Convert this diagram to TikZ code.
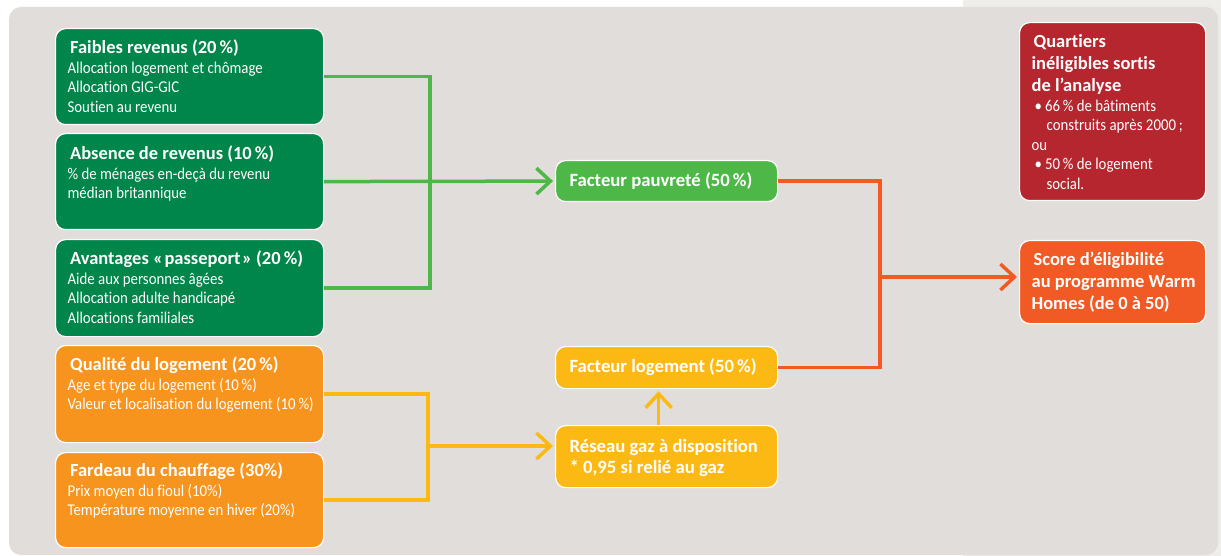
\documentclass[tikz,border=0pt]{standalone}
\usepackage{fontspec}
\setmainfont{Carlito}[Ligatures=NoCommon]
\newfontfamily\bodyfam{Carlito}[Ligatures=NoCommon, FakeStretch=0.9]
\usetikzlibrary{arrows.meta}
\definecolor{panelgray}{HTML}{E1DDDA}
\definecolor{lightgray}{HTML}{EFEDEA}
\definecolor{dgreen}{HTML}{00854A}
\definecolor{lgreen}{HTML}{4DB848}
\definecolor{orangeA}{HTML}{F7941D}
\definecolor{yellowA}{HTML}{FDB913}
\definecolor{redorange}{HTML}{F15A24}
\definecolor{darkred}{HTML}{B5262F}
\newcommand{\titlef}{\fontsize{18.5}{22}\normalfont\bfseries\selectfont}
\newcommand{\bodyf}{\fontsize{16.5}{19.5}\bodyfam\mdseries\selectfont}
\newcommand{\ctitlef}{\fontsize{18.7}{21}\normalfont\bfseries\selectfont}
\newcommand{\rtitlef}{\fontsize{18.5}{22}\normalfont\bfseries\selectfont}
\newcommand{\boxin}[3]{\begin{minipage}[t][#2][t]{#1}#3\end{minipage}}
\newcommand{\firstline}[2]{\hbox to\hsize{\rule{0pt}{#1}#2\hss}}
\newcommand{\nextline}[1]{\hbox to\hsize{#1\hss}}
\tikzset{
  box/.style={draw=white, line width=1.2pt, rounded corners=10pt, inner xsep=12pt,
    inner ysep=0pt, anchor=north west, text=white},
  cbox/.style={box, inner xsep=14pt},
  conn/.style={line width=3.5pt, line join=miter},
  tip/.style={-{Straight Barb[length=14pt,width=26pt]}, shorten >=2pt},
}
\begin{document}
\begin{tikzpicture}[x=1pt,y=-1pt]
\useasboundingbox (0,0) rectangle (1221,556);
\fill[white] (0,0) rectangle (1221,556);
\fill[lightgray] (963,0) rectangle (1221,556);
\fill[panelgray, rounded corners=12pt] (9,7) rectangle (1218,555);

% left boxes
\node[box, fill=dgreen] (fr) at (55,28) {\boxin{244pt}{96pt}{%
  \titlef\firstline{25pt}{\hspace{2.5pt}Faibles revenus (20\,\%)}%
  \bodyf\nextline{Allocation logement et chômage}%
  \nextline{Allocation GIG-GIC}%
  \nextline{Soutien au revenu}}};
\node[box, fill=dgreen] (ab) at (55,133) {\boxin{244pt}{96pt}{%
  \titlef\firstline{26pt}{\hspace{2.5pt}Absence de revenus (10\,\%)}%
  \bodyf\nextline{\%\ de ménages en-deçà du revenu}%
  \nextline{médian britannique}}};
\node[box, fill=dgreen] (av) at (55,239) {\boxin{244pt}{97pt}{%
  \titlef\firstline{25pt}{\hspace{2.5pt}Avantages «\kern1.5pt passeport\kern1.5pt» (20\,\%)}%
  \bodyf\nextline{Aide aux personnes âgées}%
  \nextline{Allocation adulte handicapé}%
  \nextline{Allocations familiales}}};
\node[box, fill=orangeA] (q) at (55,345) {\boxin{244pt}{97pt}{%
  \titlef\firstline{25pt}{\hspace{2.5pt}Qualité du logement (20\,\%)}%
  \bodyf\nextline{Age et type du logement (10\,\%)}%
  \nextline{Valeur et localisation du logement (10\,\%)}}};
\node[box, fill=orangeA] (fd) at (55,452) {\boxin{244pt}{95pt}{%
  \titlef\firstline{24pt}{\hspace{2.5pt}Fardeau du chauffage (30\%)}%
  \bodyf\nextline{Prix moyen du fioul (10\%)}%
  \nextline{Température moyenne en hiver (20\%)}}};

% centre boxes
\node[cbox, fill=lgreen] (fp) at (555,160) {\boxin{194pt}{41pt}{%
  \ctitlef\firstline{26pt}{Facteur pauvreté (50\,\%)}}};
\node[cbox, fill=yellowA] (fl) at (555,346) {\boxin{194pt}{42pt}{%
  \ctitlef\firstline{26pt}{Facteur logement (50\,\%)}}};
\node[cbox, fill=yellowA] (rg) at (555,425) {\boxin{194pt}{62pt}{%
  \ctitlef\firstline{27pt}{Réseau gaz à disposition}%
  \nextline{* 0,95 si relié au gaz}}};

% right boxes
\node[box, fill=darkred] (qt) at (1019,22) {\boxin{162pt}{178pt}{%
  \rtitlef\firstline{25pt}{\hspace{2pt}Quartiers}%
  \nextline{inéligibles sortis}%
  \nextline{de l’analyse}%
  \bodyf\nextline{\hspace{3pt}\textbullet\hspace{3pt}66\,\% de bâtiments}%
  \nextline{\hspace{15pt}construits après 2000\,;}%
  \nextline{ou}%
  \nextline{\hspace{3pt}\textbullet\hspace{3pt}50\,\% de logement}%
  \nextline{\hspace{15pt}social.}}};
\node[box, fill=redorange] (sc) at (1019,240) {\boxin{162pt}{83pt}{%
  \rtitlef\firstline{25pt}{\hspace{2pt}Score d’éligibilité}%
  \nextline{au programme Warm}%
  \nextline{Homes (de 0 à 50)}}};

% connectors
\coordinate (gj) at (430,180);
\coordinate (yj) at (428,446);
\coordinate (oj) at (880,277);
\draw[conn, lgreen] (fr.east) -| (gj);
\draw[conn, lgreen] (av.east) -| (gj);
\draw[conn, lgreen, tip] (ab.east) -- (fp.west);
\draw[conn, yellowA] (q.east) -| (yj);
\draw[conn, yellowA] (fd.east) -| (yj);
\draw[conn, yellowA, tip] (yj) -- (yj -| rg.west);
\draw[conn, yellowA, tip] ([xshift=-8pt]rg.north) -- ([xshift=-8pt]fl.south);
\draw[conn, redorange] (fp.east) -| (oj);
\draw[conn, redorange] (fl.east) -| (oj);
\draw[conn, redorange, tip] (oj) -- (oj -| sc.west);
\end{tikzpicture}
\end{document}
